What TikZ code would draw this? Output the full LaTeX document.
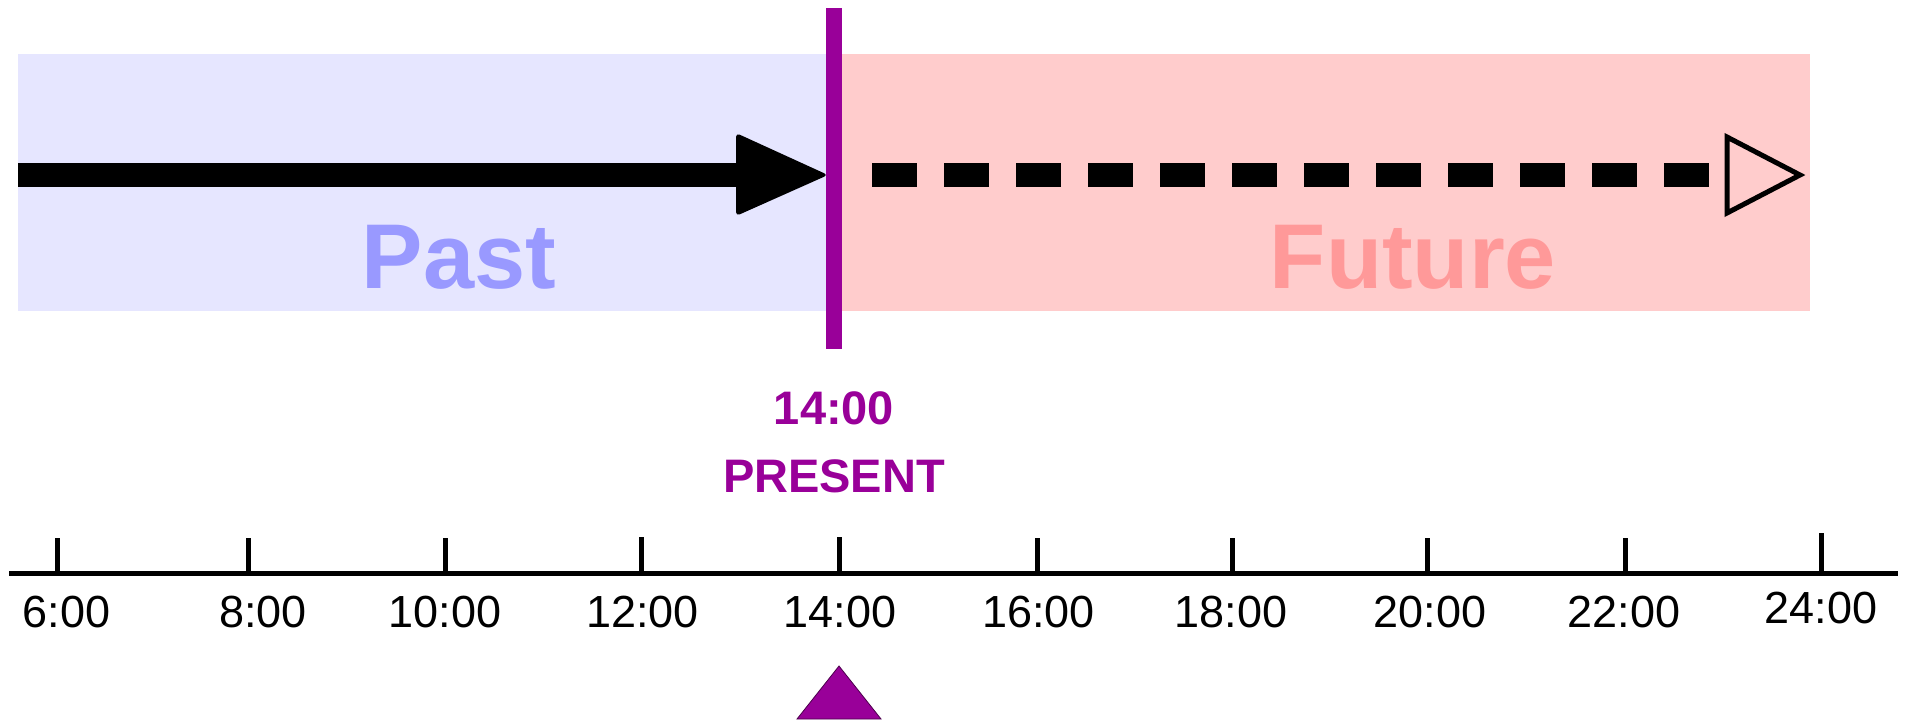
\documentclass[tikz,border=0pt]{standalone}
\usepackage{fontspec}
\setmainfont{Liberation Sans}
\definecolor{pastbg}{HTML}{E6E6FF}
\definecolor{pastfg}{HTML}{9999FF}
\definecolor{futbg}{HTML}{FFCCCC}
\definecolor{futfg}{HTML}{FF9999}
\definecolor{nowc}{HTML}{990099}
\tikzset{
  lbl/.style={inner sep=0pt, anchor=base, font=\fontsize{45}{50}\selectfont},
  bigword/.style={inner sep=0pt, anchor=base, font=\fontsize{92}{100}\selectfont\bfseries},
  nowtext/.style={inner sep=0pt, anchor=base, text=nowc, font=\fontsize{47}{52}\selectfont\bfseries},
  tickline/.style={line width=5pt},
}
\begin{document}
\begin{tikzpicture}[x=1pt,y=-1pt]
\useasboundingbox (0,0) rectangle (1908,723);
% backgrounds
\fill[pastbg] (18,54) rectangle (834,311);
\fill[futbg] (834,54) rectangle (1810,311);
% past arrow
\coordinate (pstart) at (18,175);
\coordinate (pback) at (736,175);
\coordinate (ptip) at (828,175);
\draw[line width=24pt] (pstart) -- (pback);
\fill[rounded corners=4pt] (736,133) -- (ptip) -- (736,216) -- cycle;
% future arrow
\coordinate (fstart) at (872,175);
\coordinate (fend) at (1709,175);
\draw[line width=24pt, dash pattern=on 45pt off 27pt] (fstart) -- (fend);
\draw[line width=5pt, miter limit=20] (1727,137) -- (1800,175) -- (1727,213) -- cycle;
% present line
\coordinate (ntop) at (834,8);
\coordinate (nbot) at (834,349);
\draw[nowc, line width=16pt] (ntop) -- (nbot);
% words
\node[bigword, text=pastfg] (past) at (459,288) {Past};
\node[bigword, text=futfg] (future) at (1413,288) {Future};
\node[nowtext] (nowtime) at (834,424) {14:00};
\node[nowtext] (nowlbl) at (834,492) {PRESENT};
% axis
\coordinate (axl) at (9,573);
\coordinate (axr) at (1898,573);
\draw[line width=5pt] (axl) -- (axr);
\foreach \tx/\lx/\ly/\tt/\name [count=\i] in {
  57/66.5/627/538/6:00, 248/263/627/538/8:00, 445/445/627/538/10:00,
  641/642.5/627/537/12:00, 839/840/627/537/14:00, 1037/1038.5/627/538/16:00,
  1232/1231/627/538/18:00, 1427/1430/627/538/20:00, 1625/1624/627/538/22:00,
  1821/1821/623/533/24:00}{
  \coordinate (t\i) at (\tx,573);
  \coordinate (tt\i) at (\tx,\tt);
  \draw[tickline] (t\i) -- (tt\i);
  \node[lbl] (l\i) at (\lx,\ly) {\name};
}
% marker
\fill[nowc, draw=black!50!nowc, line width=0.8pt] (839,666) -- (881,719) -- (797,719) -- cycle;
\end{tikzpicture}
\end{document}
